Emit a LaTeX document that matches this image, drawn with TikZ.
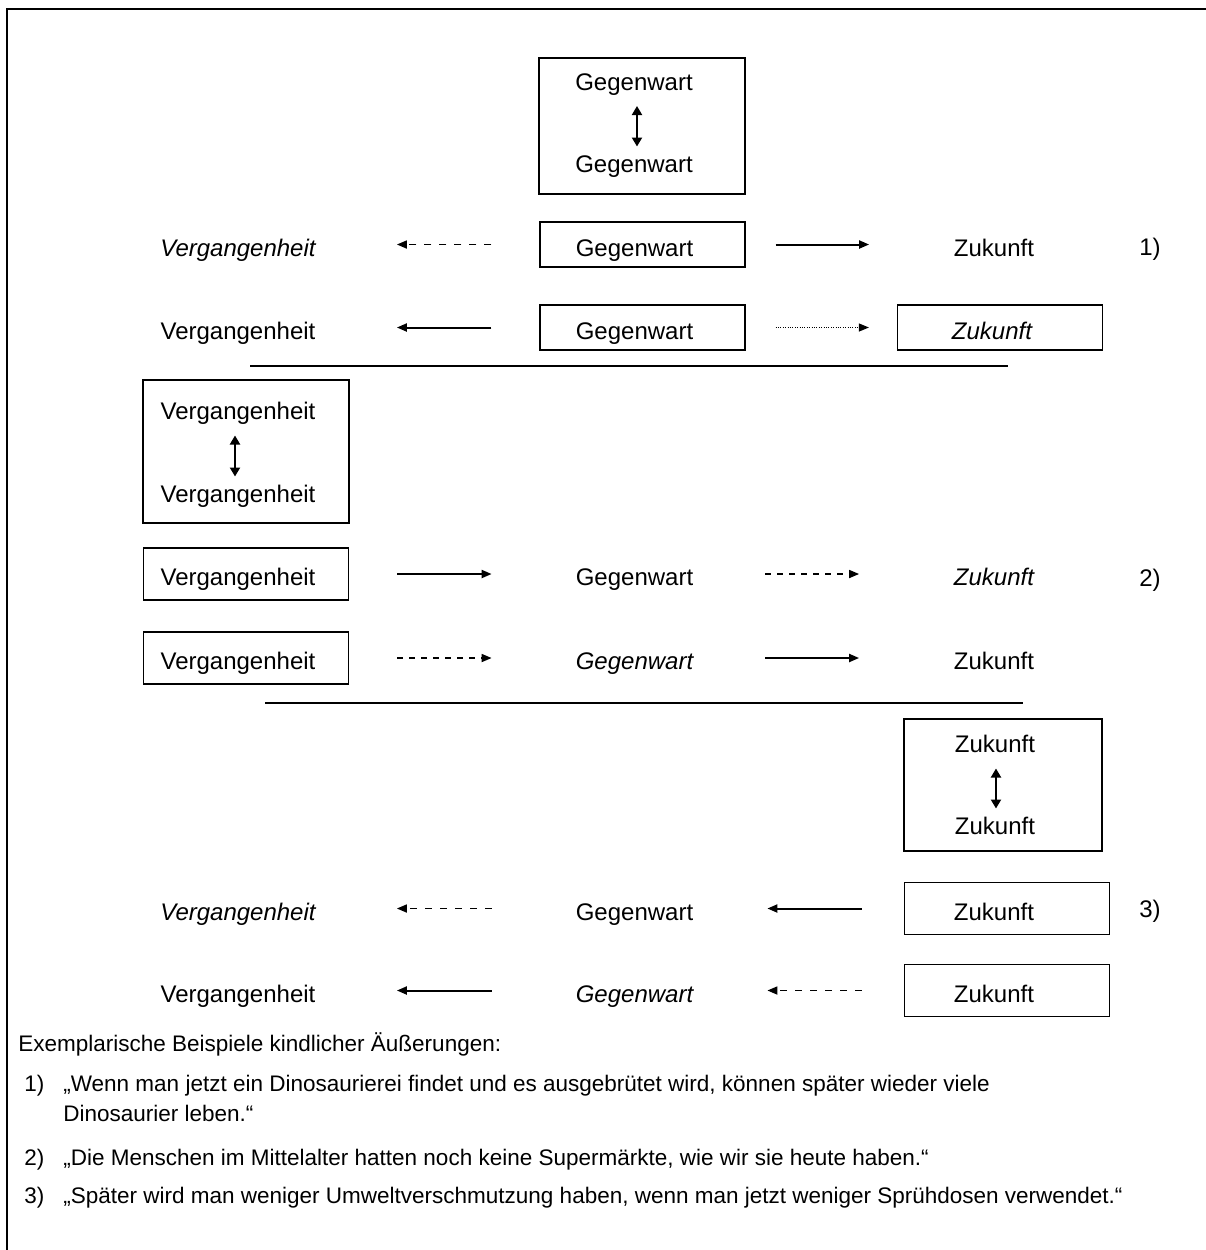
\documentclass[tikz,border=0pt]{standalone}
\usepackage{fontspec}
\setmainfont{Liberation Sans}
\usetikzlibrary{arrows.meta}
\tikzset{
  cell/.style={minimum width=102.5pt, minimum height=22.5pt, inner sep=0pt,
    text height=12pt, text depth=0.5pt,
    font=\fontsize{12}{14}\selectfont, execute at end node={\hspace{8pt}}},
  tall/.style={minimum height=26pt},
  ital/.style={font=\fontsize{12}{14}\selectfont\itshape},
  boxed/.style={draw, line width=0.6pt},
  zshift/.style={execute at end node={\hspace{5pt}}},
  frame/.style={draw, line width=1pt, minimum width=103pt, minimum height=68pt, inner sep=0pt},
  word/.style={inner sep=0pt, text height=8.6pt, text depth=2.5pt, font=\fontsize{12}{14}\selectfont},
  tip/.style={-{Triangle[length=5pt,width=4pt]}},
  solidarr/.style={tip, line width=1pt},
  dasharr/.style={tip, line width=0.85pt, dash pattern=on 3.5pt off 4pt},
  finedash/.style={dash pattern=on 3pt off 3pt},
  dotarr/.style={tip, line width=0.5pt, dash pattern=on 0.5pt off 0.7pt},
  dblarr/.style={line width=1pt, {Triangle[length=4.5pt,width=5pt]}-{Triangle[length=4.5pt,width=5pt]},
    shorten <=11pt, shorten >=10pt},
  note/.style={anchor=west, inner sep=0pt, text height=8pt, text depth=2.3pt,
    font=\fontsize{11.25}{13}\selectfont}
}
\begin{document}
\begin{tikzpicture}[x=0.5pt, y=-0.5pt]
\useasboundingbox (0,0) rectangle (1206,1250);
% outer frame
\draw[line width=1pt] (7,1250) -- (7,9) -- (1206,9);

% Gegenwart <-> Gegenwart
\node[frame] (gframe) at (642,126) {};
\node[word] (gtop) at (634,84) {Gegenwart};
\node[word] (gbot) at (634,166.5) {Gegenwart};
\draw[dblarr] ([xshift=1.5pt]gtop.center) -- ([xshift=1.5pt]gbot.center);

% row 1
\node[cell, ital] (v1) at (246,244.5) {Vergangenheit};
\node[cell, boxed] (g1) at (642.5,244.5) {Gegenwart};
\node[cell] (z1) at (1002,244.5) {Zukunft};
\node[word] (n1) at (1150,249) {1)};
\draw[dasharr, shorten <=24pt, shorten >=24pt] (g1) -- (v1);
\draw[solidarr, shorten <=15pt, shorten >=15pt] (g1) -- (z1);

% row 2
\node[cell] (v2) at (246,327.5) {Vergangenheit};
\node[cell, boxed] (g2) at (642.5,327.5) {Gegenwart};
\node[cell, boxed, ital] (z2) at (1000,327.5) {Zukunft};
\draw[solidarr, shorten <=24pt, shorten >=24pt] (g2) -- (v2);
\draw[dotarr, shorten <=15pt, shorten >=14pt] (g2) -- (z2);

\draw[line width=0.8pt] (250,366) -- (1008,366);

% Vergangenheit <-> Vergangenheit
\node[frame, minimum height=71.5pt] (vframe) at (246,451.5) {};
\node[word] (vtop) at (238,413.5) {Vergangenheit};
\node[word] (vbot) at (238,496.5) {Vergangenheit};
\draw[dblarr] ([xshift=-1.5pt]vtop.center) -- ([xshift=-1.5pt]vbot.center);

% row 3
\node[cell, tall, boxed] (v3) at (246,574) {Vergangenheit};
\node[cell, tall] (g3) at (642.5,574) {Gegenwart};
\node[cell, tall, ital] (z3) at (1002,574) {Zukunft};
\node[word] (n2) at (1150,580.5) {2)};
\draw[solidarr, shorten <=24pt, shorten >=24pt] (v3) -- (g3);
\draw[dasharr, finedash, shorten <=10pt, shorten >=20pt] (g3) -- (z3);

% row 4
\node[cell, tall, boxed] (v4) at (246,658) {Vergangenheit};
\node[cell, tall, ital] (g4) at (642.5,658) {Gegenwart};
\node[cell, tall] (z4) at (1002,658) {Zukunft};
\draw[dasharr, finedash, shorten <=24pt, shorten >=24pt] (v4) -- (g4);
\draw[solidarr, shorten <=10pt, shorten >=20pt] (g4) -- (z4);

\draw[line width=0.8pt] (265,703) -- (1023,703);

% Zukunft <-> Zukunft
\node[frame, minimum width=99pt, minimum height=66pt] (zframe) at (1003,785) {};
\node[word] (ztop) at (995,746.5) {Zukunft};
\node[word] (zbot) at (995,828.5) {Zukunft};
\draw[dblarr] ([xshift=0.5pt]ztop.center) -- ([xshift=0.5pt]zbot.center);

% row 5
\node[cell, tall, ital] (v5) at (246,908.5) {Vergangenheit};
\node[cell, tall] (g5) at (642.5,908.5) {Gegenwart};
\node[cell, tall, boxed, zshift] (z5) at (1007,908.5) {Zukunft};
\node[word] (n3) at (1150,911.5) {3)};
\draw[dasharr, shorten <=24pt, shorten >=24pt] (g5) -- (v5);
\draw[solidarr, shorten <=21pt, shorten >=11pt] (z5) -- (g5);

% row 6
\node[cell, tall] (v6) at (246,990.5) {Vergangenheit};
\node[cell, tall, ital] (g6) at (642.5,990.5) {Gegenwart};
\node[cell, tall, boxed, zshift] (z6) at (1007,990.5) {Zukunft};
\draw[solidarr, shorten <=24pt, shorten >=24pt] (g6) -- (v6);
\draw[dasharr, shorten <=21pt, shorten >=11pt] (z6) -- (g6);

% examples
\node[note] (intro) at (18,1045.5) {Exemplarische Beispiele kindlicher Äußerungen:};
\node[note] (k1) at (24,1085.5) {1)};
\node[note] (e1) at (63,1085.5) {„Wenn man jetzt ein Dinosaurierei findet und es ausgebrütet wird, können später wieder viele};
\node[note] (e1b) at (63,1115.5) {Dinosaurier leben.“};
\node[note] (k2) at (24,1159.5) {2)};
\node[note] (e2) at (63,1159.5) {„Die Menschen im Mittelalter hatten noch keine Supermärkte, wie wir sie heute haben.“};
\node[note] (k3) at (24,1197.5) {3)};
\node[note] (e3) at (63,1197.5) {„Später wird man weniger Umweltverschmutzung haben, wenn man jetzt weniger Sprühdosen verwendet.“};
\end{tikzpicture}
\end{document}
